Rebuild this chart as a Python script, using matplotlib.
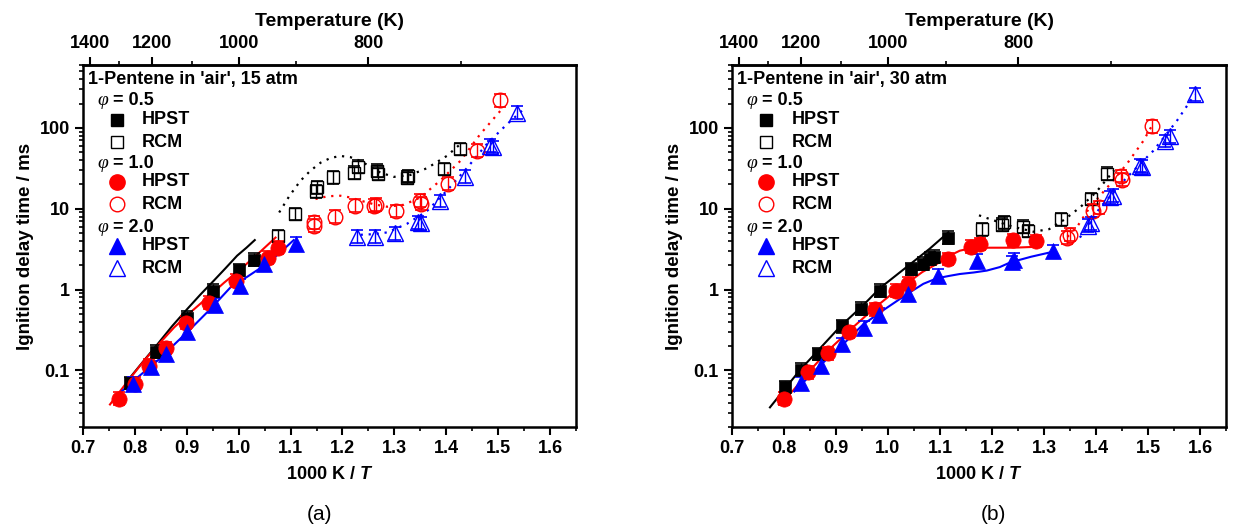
import matplotlib.pyplot as plt
from matplotlib.ticker import FixedLocator, NullFormatter, LogLocator, MultipleLocator

plt.rcParams['font.family'] = ['Liberation Sans', 'DejaVu Sans']
plt.rcParams['font.weight'] = 'bold'
plt.rcParams['axes.labelweight'] = 'bold'
plt.rcParams['mathtext.fontset'] = 'custom'
plt.rcParams['mathtext.it'] = 'Liberation Sans:bold:italic'
plt.rcParams['mathtext.rm'] = 'Liberation Sans:bold'

# ---- 15 atm data (panel a) ----
p15_hpst_05_x = [0.79, 0.84, 0.90, 0.95, 1.00, 1.03]
p15_hpst_05_y = [0.07, 0.17, 0.45, 0.97, 1.75, 2.35]
p15_rcm_05_x = [1.076, 1.108, 1.149, 1.151, 1.182, 1.222, 1.23, 1.267, 1.268, 1.324, 1.327, 1.395, 1.426]
p15_rcm_05_y = [4.6, 8.6, 16.5, 18.5, 24.5, 28, 33, 29.5, 27, 24.3, 25.5, 31, 55]
p15_hpst_10_x = [0.77, 0.80, 0.827, 0.86, 0.898, 0.942, 0.994, 1.056, 1.075]
p15_hpst_10_y = [0.045, 0.069, 0.115, 0.19, 0.39, 0.69, 1.29, 2.48, 3.3]
p15_rcm_10_x = [1.145, 1.146, 1.185, 1.225, 1.26, 1.264, 1.304, 1.35, 1.351, 1.403, 1.46, 1.504]
p15_rcm_10_y = [6.8, 6.2, 8.0, 10.9, 10.9, 11.2, 9.4, 12.6, 11.5, 20.5, 52, 219]
p15_hpst_20_x = [0.796, 0.831, 0.86, 0.90, 0.954, 1.002, 1.048, 1.11]
p15_hpst_20_y = [0.069, 0.109, 0.16, 0.295, 0.65, 1.12, 2.1, 3.7]
p15_rcm_20_x = [1.228, 1.262, 1.302, 1.346, 1.352, 1.387, 1.437, 1.485, 1.490, 1.537]
p15_rcm_20_y = [4.5, 4.5, 4.95, 6.8, 6.6, 12.5, 24.8, 60, 58, 154]

# model curves 15 atm
sim15_05_x = [0.786, 0.815, 0.844, 0.872, 0.901, 0.927, 0.952, 0.975, 0.997, 1.015, 1.031]
sim15_05_y = [0.075, 0.127, 0.213, 0.355, 0.577, 0.88, 1.29, 1.85, 2.63, 3.3, 4.1]
sim15_10_x = [0.752, 0.785, 0.818, 0.847, 0.876, 0.908, 0.94, 0.972, 1.004, 1.038, 1.071]
sim15_10_y = [0.038, 0.072, 0.133, 0.215, 0.343, 0.53, 0.80, 1.22, 1.8, 2.8, 4.4]
sim15_20_x = [0.77, 0.807, 0.844, 0.876, 0.908, 0.946, 0.985, 1.017, 1.049, 1.078, 1.106]
sim15_20_y = [0.052, 0.084, 0.133, 0.21, 0.33, 0.58, 1.08, 1.45, 1.98, 2.8, 4.1]
dot15_05_x = [1.078, 1.098, 1.119, 1.138, 1.158, 1.177, 1.196, 1.215, 1.235, 1.254, 1.273, 1.299, 1.331, 1.363, 1.401, 1.427]
dot15_05_y = [9.0, 14.5, 22.2, 29.5, 37.2, 42.5, 45, 43.5, 39, 33, 28, 24.8, 26.2, 31.8, 45, 63]
dot15_10_x = [1.148, 1.172, 1.196, 1.215, 1.235, 1.26, 1.286, 1.318, 1.35, 1.388, 1.427, 1.465, 1.504]
dot15_10_y = [13.2, 14.3, 14.5, 13.8, 12.6, 11.4, 10.6, 11.2, 13.8, 22.2, 39, 83, 162]
dot15_20_x = [1.235, 1.26, 1.286, 1.324, 1.363, 1.401, 1.44, 1.478, 1.517, 1.549]
dot15_20_y = [4.77, 4.85, 5.1, 6.5, 9.4, 16.7, 32, 63, 111, 170]

# ---- 30 atm data (panel b) ----
p30_hpst_05_x = [0.802, 0.832, 0.866, 0.911, 0.949, 0.985, 1.044, 1.068, 1.081, 1.088, 1.116]
p30_hpst_05_y = [0.062, 0.102, 0.16, 0.35, 0.58, 0.97, 1.8, 2.1, 2.4, 2.55, 4.4]
p30_rcm_05_x = [1.18, 1.219, 1.223, 1.26, 1.27, 1.332, 1.39, 1.422]
p30_rcm_05_y = [5.6, 6.35, 6.8, 6.0, 5.3, 7.45, 13.2, 27.3]
p30_hpst_10_x = [0.80, 0.847, 0.885, 0.925, 0.975, 1.015, 1.039, 1.116, 1.159, 1.177, 1.241, 1.285]
p30_hpst_10_y = [0.045, 0.095, 0.164, 0.30, 0.57, 0.97, 1.18, 2.39, 3.4, 3.66, 4.1, 4.0]
p30_rcm_10_x = [1.344, 1.35, 1.395, 1.405, 1.448, 1.45, 1.508]
p30_rcm_10_y = [4.4, 4.8, 9.45, 10.4, 25.5, 23, 105]
p30_hpst_20_x = [0.832, 0.871, 0.911, 0.953, 0.983, 1.039, 1.097, 1.171, 1.238, 1.243, 1.318]
p30_hpst_20_y = [0.07, 0.115, 0.21, 0.34, 0.49, 0.88, 1.49, 2.28, 2.2, 2.35, 3.0]
p30_rcm_20_x = [1.385, 1.39, 1.427, 1.433, 1.485, 1.489, 1.533, 1.542, 1.59]
p30_rcm_20_y = [6.2, 6.6, 13.8, 14.5, 34, 33, 69, 79, 261]

# model curves 30 atm
sim30_05_x = [0.773, 0.83, 0.87, 0.91, 0.95, 0.985, 1.04, 1.08, 1.116]
sim30_05_y = [0.035, 0.10, 0.19, 0.36, 0.62, 1.05, 2.0, 3.2, 5.1]
sim30_10_x = [0.79, 0.818, 0.85, 0.885, 0.93, 0.975, 1.007, 1.039, 1.066, 1.094, 1.117, 1.138, 1.164, 1.19, 1.241, 1.292]
sim30_10_y = [0.038, 0.057, 0.10, 0.177, 0.33, 0.6, 0.88, 1.23, 1.65, 2.08, 2.6, 3.03, 3.3, 3.3, 3.3, 3.4]
sim30_20_x = [0.82, 0.869, 0.91, 0.952, 0.995, 1.039, 1.068, 1.094, 1.118, 1.138, 1.165, 1.19, 1.215, 1.235, 1.275, 1.318]
sim30_20_y = [0.055, 0.115, 0.2, 0.37, 0.58, 0.9, 1.18, 1.38, 1.48, 1.56, 1.63, 1.72, 1.9, 2.17, 2.55, 2.95]
dot30_05_x = [1.175, 1.20, 1.24, 1.28, 1.31, 1.34, 1.37, 1.40, 1.435]
dot30_05_y = [8.3, 7.3, 6.0, 5.2, 5.6, 7.4, 10.5, 16, 30]
dot30_10_x = [1.345, 1.363, 1.388, 1.427, 1.459, 1.491, 1.507]
dot30_10_y = [4.5, 5.9, 10.4, 20.1, 35.6, 69, 105]
dot30_20_x = [1.369, 1.408, 1.459, 1.51, 1.555, 1.59]
dot30_20_y = [4.4, 10.4, 24.3, 52, 121, 260]

y_ticks = [0.1, 1, 10, 100]
y_ticklabels = ['0.1', '1', '10', '100']
T_major = [1400, 1200, 1000, 800]
T_minor = [1300, 1100, 900, 700]
err = 0.2

# marker style per equivalence ratio: (colour, marker, size filled, size open)
styles = {'0.5': ('k', 's', 9, 8.5), '1.0': ('red', 'o', 11, 10.5), '2.0': ('blue', '^', 11, 11)}


def points(ax, x, y, color, marker, ms, filled):
    lo = [v - v / (1 + err) for v in y]
    hi = [v * err for v in y]
    ax.errorbar(x, y, yerr=[lo, hi], fmt='none', ecolor=color, elinewidth=1,
                capsize=4, capthick=1.2, zorder=4)
    ax.plot(x, y, linestyle='none', marker=marker, ms=ms,
            mfc=color if filled else 'none', mec=color,
            mew=1 if not filled else 0.5, zorder=5)


def panel(ax, title, d):
    for (sx, sy, c) in d['sim']:
        ax.plot(sx, sy, color=c, lw=1.5, zorder=3)
    for (sx, sy, c) in d['dot']:
        ax.plot(sx, sy, color=c, lw=1.6, linestyle=(0, (1, 2.6)), zorder=3)
    for (x, y, phi, filled) in d['pts']:
        c, m, msf, mso = styles[phi]
        points(ax, x, y, c, m, msf if filled else mso, filled)

    ax.set_yscale('log')
    ax.set_xlim(0.7, 1.65)
    ax.set_ylim(0.02, 600)
    ax.yaxis.set_major_locator(FixedLocator(y_ticks))
    ax.set_yticklabels(y_ticklabels)
    ax.yaxis.set_minor_locator(LogLocator(base=10, subs=range(2, 10)))
    ax.yaxis.set_minor_formatter(NullFormatter())
    ax.xaxis.set_major_locator(MultipleLocator(0.1))
    ax.xaxis.set_minor_locator(MultipleLocator(0.05))
    ax.xaxis.set_major_formatter(plt.FuncFormatter(lambda v, p: '%.1f' % v))
    ax.tick_params(which='major', direction='out', length=6, width=1.5, labelsize=13,
                   top=False, right=False)
    ax.tick_params(which='minor', direction='out', length=3, width=1.2,
                   top=False, right=False)
    for s in ax.spines.values():
        s.set_linewidth(1.8)
    ax.set_xlabel('1000 K / $\\mathit{T}$', fontsize=13, labelpad=6)
    ax.set_ylabel('Ignition delay time / ms', fontsize=13.5, labelpad=4)

    top = ax.secondary_xaxis('top', functions=(lambda v: 1000.0 / v, lambda t: 1000.0 / t))
    top.set_xticks(T_major)
    top.set_xticks(T_minor, minor=True)
    top.xaxis.set_minor_formatter(NullFormatter())
    top.tick_params(which='major', direction='out', length=6, width=1.5, labelsize=13)
    top.tick_params(which='minor', direction='out', length=3, width=1.2)
    top.spines['top'].set_linewidth(1.8)
    top.set_xlabel('Temperature (K)', fontsize=14, labelpad=6, weight='bold')

    # in-plot key
    tr = ax.transAxes
    ax.text(0.010, 0.961, title, transform=tr, fontsize=13, va='center', ha='left')
    hy = [0.901, 0.729, 0.552]
    for i, phi in enumerate(['0.5', '1.0', '2.0']):
        c, m, msf, mso = styles[phi]
        y0 = hy[i]
        ax.text(0.030, y0, '\u03c6', transform=tr, fontsize=14, va='center', ha='left',
                family='Liberation Serif', style='italic', weight='normal')
        ax.text(0.061, y0, '= ' + phi, transform=tr, fontsize=13, va='center', ha='left')
        y1 = y0 - 0.052
        y2 = y0 - 0.114
        ax.plot([0.069], [y1], transform=tr, marker=m, ms=msf, mfc=c, mec=c,
                linestyle='none', clip_on=False)
        ax.plot([0.069], [y2], transform=tr, marker=m, ms=mso, mfc='none', mec=c,
                mew=1, linestyle='none', clip_on=False)
        ax.text(0.12, y1, 'HPST', transform=tr, fontsize=13, va='center', ha='left')
        ax.text(0.12, y2, 'RCM', transform=tr, fontsize=13, va='center', ha='left')


fig = plt.figure(figsize=(12.36, 5.28), dpi=100)
W, H = 1236.0, 528.0
axL = fig.add_axes([83 / W, 1 - 427 / H, 493 / W, 362 / H])
axR = fig.add_axes([732 / W, 1 - 427 / H, 494 / W, 362 / H])

d15 = {
    'sim': [(sim15_05_x, sim15_05_y, 'k'), (sim15_10_x, sim15_10_y, 'red'),
            (sim15_20_x, sim15_20_y, 'blue')],
    'dot': [(dot15_05_x, dot15_05_y, 'k'), (dot15_10_x, dot15_10_y, 'red'),
            (dot15_20_x, dot15_20_y, 'blue')],
    'pts': [(p15_hpst_05_x, p15_hpst_05_y, '0.5', True),
            (p15_rcm_05_x, p15_rcm_05_y, '0.5', False),
            (p15_hpst_10_x, p15_hpst_10_y, '1.0', True),
            (p15_rcm_10_x, p15_rcm_10_y, '1.0', False),
            (p15_hpst_20_x, p15_hpst_20_y, '2.0', True),
            (p15_rcm_20_x, p15_rcm_20_y, '2.0', False)],
}
d30 = {
    'sim': [(sim30_05_x, sim30_05_y, 'k'), (sim30_10_x, sim30_10_y, 'red'),
            (sim30_20_x, sim30_20_y, 'blue')],
    'dot': [(dot30_05_x, dot30_05_y, 'k'), (dot30_10_x, dot30_10_y, 'red'),
            (dot30_20_x, dot30_20_y, 'blue')],
    'pts': [(p30_hpst_05_x, p30_hpst_05_y, '0.5', True),
            (p30_rcm_05_x, p30_rcm_05_y, '0.5', False),
            (p30_hpst_10_x, p30_hpst_10_y, '1.0', True),
            (p30_rcm_10_x, p30_rcm_10_y, '1.0', False),
            (p30_hpst_20_x, p30_hpst_20_y, '2.0', True),
            (p30_rcm_20_x, p30_rcm_20_y, '2.0', False)],
}

panel(axL, "1-Pentene in 'air', 15 atm", d15)
panel(axR, "1-Pentene in 'air', 30 atm", d30)

fig.text(320 / W, 1 - 515 / H, '(a)', fontsize=15, weight='normal', ha='center', va='center')
fig.text(993 / W, 1 - 515 / H, '(b)', fontsize=15, weight='normal', ha='center', va='center')

fig.savefig('out.png', dpi=100)
